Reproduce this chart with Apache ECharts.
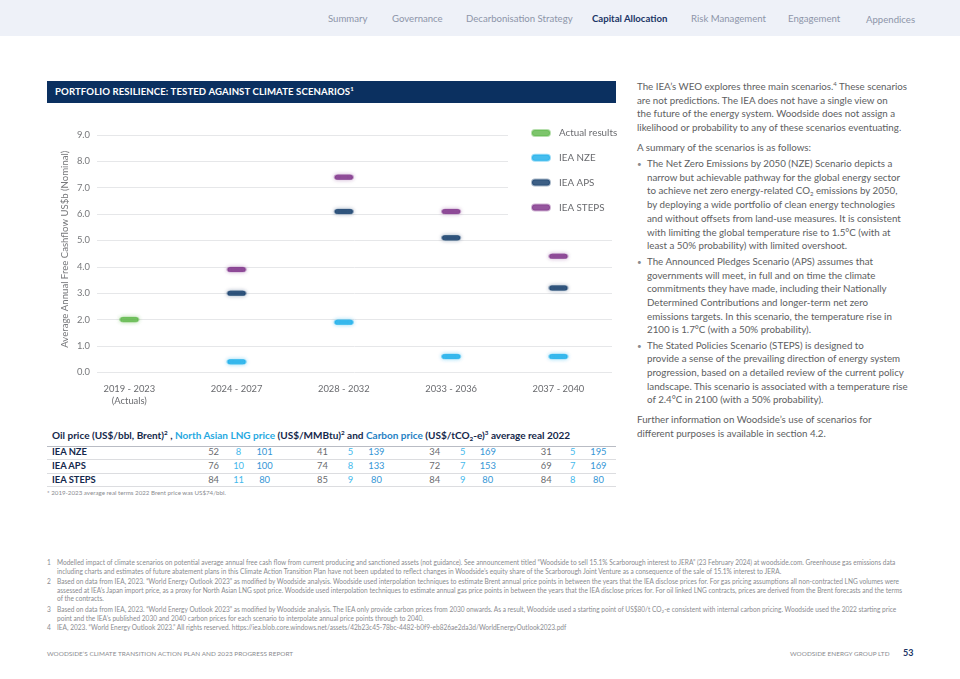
<!DOCTYPE html>
<html>
<head>
<meta charset="utf-8">
<script src="https://cdn.jsdelivr.net/npm/echarts@6/dist/echarts.min.js"></script>
<style>
  html, body { margin:0; padding:0; }
  body { width:960px; height:679px; position:relative; overflow:hidden; background:#fff; font-family:'Lato','Open Sans',sans-serif; color:#5d5e61; }
  #header { position:absolute; left:0; top:0; width:960px; height:36px; background:#eef1f8; }
  .nav { position:absolute; font-size:9.6px; color:#8d95a9; line-height:12px; white-space:nowrap; }
  .nav.active { color:#1b3566; font-weight:bold; }
  #band { position:absolute; left:47px; top:81px; width:569px; height:22px; background:#0b3060; color:#fff; font-weight:bold; font-size:9.6px; line-height:22px; padding-left:8px; box-sizing:border-box; letter-spacing:0.1px; white-space:nowrap; }
  #band sup { font-size:6px; vertical-align:4px; line-height:0; }
  #chart { position:absolute; left:0; top:0; width:960px; height:679px; }
  .rt { position:absolute; left:637px; font-size:9.75px; line-height:13.7px; color:#5d5e61; white-space:nowrap; }
  .rt sup { font-size:6px; vertical-align:4px; line-height:0; }
  .bul { position:absolute; left:637px; font-size:9.75px; line-height:13.7px; color:#5d5e61; }
  .bul .dot { color:#8a8b8f; font-size:8px; }
  .bul .txt { position:absolute; left:10px; top:0; white-space:nowrap; }
  .bul sub { font-size:6px; vertical-align:-2px; line-height:0; }
  #ttitle { position:absolute; left:52px; top:428px; font-size:10px; font-weight:bold; color:#14284b; white-space:nowrap; line-height:14px; }
  #ttitle sup { font-size:6.3px; vertical-align:4px; line-height:0; }
  #ttitle sub { font-size:6.3px; vertical-align:-2px; line-height:0; }
  .hl { position:absolute; left:47px; width:569px; height:0; border-top:1px solid #dcdde0; }
  .rowlab { position:absolute; left:52px; font-size:9.4px; font-weight:bold; color:#14284b; line-height:12px; white-space:nowrap; }
  .cell { position:absolute; font-size:9.4px; line-height:12px; width:30px; margin-left:-15px; text-align:center; }
  .oil { color:#6a6b6f; } .lng { color:#45b9ec; } .co2 { color:#3596d6; }
  #tnote { position:absolute; left:47px; top:489px; font-size:6.2px; color:#8a8b8f; white-space:nowrap; }
  .fn { position:absolute; left:47px; font-size:6.55px; line-height:8.5px; color:#8a8b8f; white-space:nowrap; }
  .fn .n { position:absolute; left:0; } .fn .t { position:absolute; left:10px; top:0; }
  .fn sub { font-size:4.5px; vertical-align:-1px; line-height:0; }
  .foot { position:absolute; top:650px; font-size:6.4px; color:#8a8b8f; white-space:nowrap; line-height:8px; letter-spacing:0.05px; }
  #pg { position:absolute; left:903px; top:648px; font-size:9px; font-weight:bold; color:#1b3566; line-height:10px; }
</style>
</head>
<body>
<div id="header"></div>
<div class="nav" style="left:328px;top:13px;">Summary</div>
<div class="nav" style="left:392px;top:13px;">Governance</div>
<div class="nav" style="left:466px;top:13px;">Decarbonisation Strategy</div>
<div class="nav active" style="left:592px;top:13px;">Capital Allocation</div>
<div class="nav" style="left:691px;top:13px;">Risk Management</div>
<div class="nav" style="left:788px;top:13px;">Engagement</div>
<div class="nav" style="left:866px;top:14px;">Appendices</div>

<div id="band">PORTFOLIO RESILIENCE: TESTED AGAINST CLIMATE SCENARIOS<sup>1</sup></div>

<div class="rt" style="top:80px;">The IEA’s WEO explores three main scenarios.<sup>4</sup> These scenarios<br>are not predictions. The IEA does not have a single view on<br>the future of the energy system. Woodside does not assign a<br>likelihood or probability to any of these scenarios eventuating.</div>
<div class="rt" style="top:140.5px;">A summary of the scenarios is as follows:</div>
<div class="bul" style="top:157px;"><span class="dot">•</span><div class="txt">The Net Zero Emissions by 2050 (NZE) Scenario depicts a<br>narrow but achievable pathway for the global energy sector<br>to achieve net zero energy-related CO<sub>2</sub> emissions by 2050,<br>by deploying a wide portfolio of clean energy technologies<br>and without offsets from land-use measures. It is consistent<br>with limiting the global temperature rise to 1.5°C (with at<br>least a 50% probability) with limited overshoot.</div></div>
<div class="bul" style="top:254.8px;"><span class="dot">•</span><div class="txt">The Announced Pledges Scenario (APS) assumes that<br>governments will meet, in full and on time the climate<br>commitments they have made, including their Nationally<br>Determined Contributions and longer-term net zero<br>emissions targets. In this scenario, the temperature rise in<br>2100 is 1.7°C (with a 50% probability).</div></div>
<div class="bul" style="top:338.5px;"><span class="dot">•</span><div class="txt">The Stated Policies Scenario (STEPS) is designed to<br>provide a sense of the prevailing direction of energy system<br>progression, based on a detailed review of the current policy<br>landscape. This scenario is associated with a temperature rise<br>of 2.4°C in 2100 (with a 50% probability).</div></div>
<div class="rt" style="top:413.2px;">Further information on Woodside’s use of scenarios for<br>different purposes is available in section 4.2.</div>

<div id="ttitle">Oil price (US$/bbl, Brent)<sup>2</sup> , <span style="color:#27a9e1">North Asian LNG price</span> (US$/MMBtu)<sup>2</sup> and <span style="color:#1f7fc4">Carbon price</span> (US$/tCO<sub>2</sub>-e)<sup>3</sup> average real 2022</div>
<div id="table"></div>
<div id="tnote">* 2019-2023 average real terms 2022 Brent price was US$74/bbl.</div>

<div class="fn" style="top:559px;"><span class="n">1</span><div class="t">Modelled impact of climate scenarios on potential average annual free cash flow from current producing and sanctioned assets (not guidance). See announcement titled “Woodside to sell 15.1% Scarborough interest to JERA” (23 February 2024) at woodside.com. Greenhouse gas emissions data<br>including charts and estimates of future abatement plans in this Climate Action Transition Plan have not been updated to reflect changes in Woodside’s equity share of the Scarborough Joint Venture as a consequence of the sale of 15.1% interest to JERA.</div></div>
<div class="fn" style="top:578px;"><span class="n">2</span><div class="t">Based on data from IEA, 2023. “World Energy Outlook 2023” as modified by Woodside analysis. Woodside used interpolation techniques to estimate Brent annual price points in between the years that the IEA disclose prices for. For gas pricing assumptions all non-contracted LNG volumes were<br>assessed at IEA’s Japan import price, as a proxy for North Asian LNG spot price. Woodside used interpolation techniques to estimate annual gas price points in between the years that the IEA disclose prices for. For oil linked LNG contracts, prices are derived from the Brent forecasts and the terms<br>of the contracts.</div></div>
<div class="fn" style="top:606px;"><span class="n">3</span><div class="t">Based on data from IEA, 2023. “World Energy Outlook 2023” as modified by Woodside analysis. The IEA only provide carbon prices from 2030 onwards. As a result, Woodside used a starting point of US$80/t CO<sub>2</sub>-e consistent with internal carbon pricing. Woodside used the 2022 starting price<br>point and the IEA’s published 2030 and 2040 carbon prices for each scenario to interpolate annual price points through to 2040.</div></div>
<div class="fn" style="top:624px;"><span class="n">4</span><div class="t">IEA, 2023. “World Energy Outlook 2023.” All rights reserved. https://iea.blob.core.windows.net/assets/42b23c45-78bc-4482-b0f9-eb826ae2da3d/WorldEnergyOutlook2023.pdf</div></div>

<div class="foot" style="left:47px;">WOODSIDE’S CLIMATE TRANSITION ACTION PLAN AND 2023 PROGRESS REPORT</div>
<div class="foot" style="left:790px;">WOODSIDE ENERGY GROUP LTD</div>
<div id="pg">53</div>

<div id="chart"></div>

<script>
// ---------- Chart data ----------
const categories = ['2019 - 2023\n(Actuals)', '2024 - 2027', '2028 - 2032', '2033 - 2036', '2037 - 2040'];
const actualResults = [2.0, null, null, null, null];
const ieaNZE   = [null, 0.4, 1.9, 0.6, 0.6];
const ieaAPS   = [null, 3.0, 6.1, 5.1, 3.2];
const ieaSTEPS = [null, 3.9, 7.4, 6.1, 4.4];
const yTickValues = [0, 1, 2, 3, 4, 5, 6, 7, 8, 9];
const yAxisTitle = 'Average Annual Free Cashflow US$b (Nominal)';

// ---------- Table data ----------
const tableScenarios = ['IEA NZE', 'IEA APS', 'IEA STEPS'];
const oilPrice    = [[52, 41, 34, 31], [76, 74, 72, 69], [84, 85, 84, 84]];
const lngPrice    = [[8, 5, 5, 5], [10, 8, 7, 7], [11, 9, 9, 8]];
const carbonPrice = [[101, 139, 169, 195], [100, 133, 153, 169], [80, 80, 80, 80]];

// ---------- Build table ----------
(function () {
  const t = document.getElementById('table');
  const rowY = [446.3, 459.7, 474];
  const lineY = [446, 459, 472.5, 486];
  const oilX = [213.6, 322.5, 434.8, 546.3];
  const lngX = [238.6, 350.4, 462.7, 572.7];
  const co2X = [264.6, 376.4, 487.8, 598.4];
  let html = '';
  lineY.forEach((y, i) => {
    html += '<div class="hl" style="top:' + y + 'px;' + (i === 0 ? 'border-top-color:#b9bcc4;' : '') + '"></div>';
  });
  tableScenarios.forEach((name, r) => {
    html += '<div class="rowlab" style="top:' + rowY[r] + 'px;">' + name + '</div>';
    for (let g = 0; g < 4; g++) {
      html += '<div class="cell oil" style="left:' + oilX[g] + 'px;top:' + rowY[r] + 'px;">' + oilPrice[r][g] + '</div>';
      html += '<div class="cell lng" style="left:' + lngX[g] + 'px;top:' + rowY[r] + 'px;">' + lngPrice[r][g] + '</div>';
      html += '<div class="cell co2" style="left:' + co2X[g] + 'px;top:' + rowY[r] + 'px;">' + carbonPrice[r][g] + '</div>';
    }
  });
  t.innerHTML = html;
})();

// ---------- Chart ----------
const FONT = 'Lato, "Open Sans", sans-serif';
const pill = 'path://M3,0 L15,0 A3,3 0 0 1 15,6 L3,6 A3,3 0 0 1 3,0 Z';
const yMin = yTickValues[0], yMax = yTickValues[yTickValues.length - 1];
const yStep = yTickValues[1] - yTickValues[0];
const ySplit = 5; // lines above this value are shortened to leave room for the legend

const plotTop = 135, plotBottom = 372.3;
const unit = (plotBottom - plotTop) / (yMax - yMin);

function toPairs(arr) {
  const out = [];
  arr.forEach((v, i) => { if (v !== null && v !== undefined) out.push([i, v]); });
  return out;
}
function mkSeries(name, arr, color, glow) {
  return {
    name: name, type: 'scatter', xAxisIndex: 0, yAxisIndex: 0,
    data: toPairs(arr), symbol: pill, symbolSize: [18, 5],
    itemStyle: { color: color, shadowBlur: 4, shadowColor: glow, borderColor: glow, borderWidth: 1.2 },
    emphasis: { disabled: true }, z: 5
  };
}
const axisLabelStyle = { color: '#77787b', fontSize: 9.4, fontFamily: FONT };
const splitStyle = { lineStyle: { color: '#e6e7e9', width: 1 } };

const chart = echarts.init(document.getElementById('chart'), null, { renderer: 'canvas' });
chart.setOption({
  animation: false,
  backgroundColor: 'transparent',
  textStyle: { fontFamily: FONT },
  grid: [
    { left: 75.7, top: plotTop, width: 536.3, height: plotBottom - plotTop },
    { left: 97, top: plotBottom - ySplit * unit, width: 515, height: ySplit * unit },
    { left: 97, top: plotTop, width: 411, height: (yMax - (ySplit + yStep)) * unit }
  ],
  xAxis: [
    { gridIndex: 0, type: 'category', data: categories, boundaryGap: true,
      axisLine: { show: false }, axisTick: { show: false },
      axisLabel: { margin: 11, color: '#6a6b6f', fontSize: 9.4, lineHeight: 12, fontFamily: FONT } },
    { gridIndex: 1, type: 'value', show: false, min: 0, max: 1 },
    { gridIndex: 2, type: 'value', show: false, min: 0, max: 1 }
  ],
  yAxis: [
    { gridIndex: 0, type: 'value', min: yMin, max: yMax, show: false },
    { gridIndex: 1, type: 'value', min: yMin, max: ySplit, interval: yStep,
      axisLine: { show: false }, axisTick: { show: false },
      axisLabel: Object.assign({ margin: 7, formatter: v => v.toFixed(1) }, axisLabelStyle),
      splitLine: splitStyle },
    { gridIndex: 2, type: 'value', min: ySplit + yStep, max: yMax, interval: yStep,
      axisLine: { show: false }, axisTick: { show: false },
      axisLabel: Object.assign({ margin: 7, formatter: v => v.toFixed(1) }, axisLabelStyle),
      splitLine: splitStyle }
  ],
  legend: {
    orient: 'vertical', left: 526, top: 122, padding: 5,
    itemWidth: 18, itemHeight: 6, itemGap: 12.8,
    icon: pill,
    data: ['Actual results', 'IEA NZE', 'IEA APS', 'IEA STEPS'],
    textStyle: { color: '#6a6b6f', fontSize: 9.8, fontFamily: FONT, lineHeight: 12, padding: [0, 0, 0, 4] },
    selectedMode: false
  },
  graphic: [
    { type: 'text', x: 65, y: 249.2, rotation: Math.PI / 2,
      style: { text: yAxisTitle, fill: '#77787b', fontSize: 9.6, fontFamily: FONT, align: 'center', verticalAlign: 'middle' } }
  ],
  series: [
    mkSeries('Actual results', actualResults, '#5cb647', 'rgba(92,182,71,0.55)'),
    mkSeries('IEA NZE', ieaNZE, '#17adea', 'rgba(23,173,234,0.55)'),
    mkSeries('IEA APS', ieaAPS, '#0d3766', 'rgba(13,55,102,0.45)'),
    mkSeries('IEA STEPS', ieaSTEPS, '#7a2c86', 'rgba(122,44,134,0.45)')
  ]
});
</script>
</body>
</html>
